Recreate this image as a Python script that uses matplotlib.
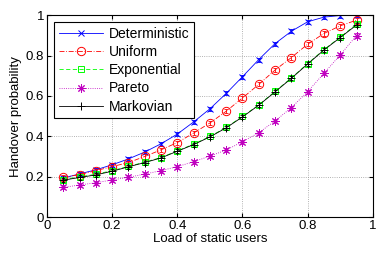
import matplotlib
matplotlib.use("Agg")
import matplotlib.pyplot as plt
import numpy as np

plt.rcParams['font.family'] = ['Liberation Sans', 'DejaVu Sans']
plt.rcParams['font.size'] = 9.5

load = [0.05, 0.10, 0.15, 0.20, 0.25, 0.30, 0.35, 0.40, 0.45, 0.50,
        0.55, 0.60, 0.65, 0.70, 0.75, 0.80, 0.85, 0.90, 0.95]

deterministic = [0.193, 0.214, 0.234, 0.259, 0.288, 0.322, 0.363, 0.411, 0.471, 0.536,
                 0.612, 0.695, 0.780, 0.859, 0.920, 0.967, 0.990, 0.998, 1.000]
uniform = [0.197, 0.210, 0.230, 0.250, 0.270, 0.300, 0.333, 0.369, 0.416, 0.466,
           0.524, 0.590, 0.657, 0.728, 0.790, 0.856, 0.909, 0.947, 0.975]
exponential = [0.186, 0.199, 0.212, 0.230, 0.251, 0.272, 0.295, 0.328, 0.361, 0.399,
               0.444, 0.498, 0.556, 0.622, 0.689, 0.760, 0.829, 0.891, 0.955]
pareto = [0.147, 0.159, 0.170, 0.184, 0.197, 0.213, 0.230, 0.250, 0.274, 0.302,
          0.332, 0.373, 0.418, 0.476, 0.542, 0.621, 0.712, 0.803, 0.899]
markovian = [0.183, 0.196, 0.209, 0.227, 0.249, 0.270, 0.293, 0.326, 0.359, 0.397,
             0.442, 0.496, 0.554, 0.620, 0.687, 0.758, 0.827, 0.889, 0.951]
err = 0.01  # half-width of the small confidence bars

series = [
    ("Deterministic", deterministic, "b", "-", "x", {"ms": 5}),
    ("Uniform", uniform, "r", (0, (6, 2, 1, 2)), "o", {"mfc": "none", "ms": 6}),
    ("Exponential", exponential, "#00ff00", (0, (5, 3)), "s", {"mfc": "none", "ms": 5}),
    ("Pareto", pareto, "m", ":", (8, 2, 0), {"ms": 6}),
    ("Markovian", markovian, "k", "-", "+", {"ms": 6}),
]

fig = plt.figure(figsize=(3.82, 2.56), dpi=100)
ax = fig.add_axes([0.123, 0.152, 0.853, 0.789])

for name, vals, col, ls, mk, extra in series:
    ax.errorbar(load, vals, yerr=err, color=col, ls="none", elinewidth=0.6,
                capsize=1.5, capthick=0.6)
    ax.plot(load, vals, color=col, ls=ls, marker=mk, lw=0.6, mew=0.7,
            label=name, **extra)

ax.set_xlim(0, 1)
ax.set_ylim(0, 1)
ax.set_xticks(np.arange(0, 1.01, 0.2))
ax.set_yticks(np.arange(0, 1.01, 0.2))
ax.set_xticklabels(["0", "0.2", "0.4", "0.6", "0.8", "1"])
ax.set_yticklabels(["0", "0.2", "0.4", "0.6", "0.8", "1"])
ax.grid(True, ls=":", color="#999999", lw=0.6)
ax.tick_params(direction="in", length=3, top=True, right=True, pad=2)
ax.set_xlabel("Load of static users", labelpad=1)
ax.set_ylabel("Handover probability", labelpad=3)

leg = ax.legend(loc="upper left", bbox_to_anchor=(0.0, 1.0), fancybox=False,
                edgecolor="k", handlelength=3.2, borderaxespad=0.5,
                labelspacing=0.3, handletextpad=0.4, borderpad=0.35,
                framealpha=1, fontsize=10)
leg.get_frame().set_linewidth(0.8)

fig.savefig("out.png", dpi=100)
